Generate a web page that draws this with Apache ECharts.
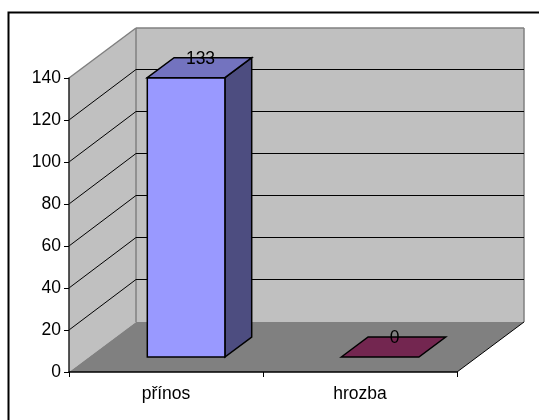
<!DOCTYPE html>
<html>
<head>
<meta charset="utf-8">
<style>html,body{margin:0;padding:0;background:#fff}#c{width:539px;height:420px}</style>
<script src="https://cdn.jsdelivr.net/npm/echarts@6/dist/echarts.min.js"></script>
</head>
<body>
<div id="c"></div>
<script>
const categories = ['přínos', 'hrozba'];
const values = [133, 0];
const yTicks = [0, 20, 40, 60, 80, 100, 120, 140];

const barColors = [
  { front: '#9999FF', top: '#7373BF', side: '#4D4D80' },
  { front: '#993366', top: '#732650', side: '#4D1A33' }
];
const wallColor = '#C0C0C0';
const floorColor = '#808080';
const edgeColor = '#808080';
const FONT_FAMILY = '"Liberation Sans", Arial, sans-serif';
const FONT_SIZE = 17.5;

// Oblique projection: how far the room recedes, and where a bar sits within that depth.
const DEPTH_X = 67, DEPTH_Y = -50;
const BAR_NEAR = 0.3, BAR_FAR = 0.7;
const BAR_WIDTH_RATIO = 0.4;

const at = (p, t) => [p[0] + DEPTH_X * t, p[1] + DEPTH_Y * t];
const poly = (points, style) => ({ type: 'polygon', shape: { points }, style });
const seg = (a, b, stroke, lineWidth) => ({
  type: 'line',
  shape: { x1: a[0], y1: a[1], x2: b[0], y2: b[1] },
  style: { stroke, lineWidth }
});

// Side wall, back wall and floor of the box behind the bars.
function renderRoom(params, api) {
  const band = api.size([1, 0])[0];
  const last = categories.length - 1;
  const top = yTicks[yTicks.length - 1];
  const x0 = api.coord([0, 0])[0] - band / 2;
  const x1 = api.coord([last, 0])[0] + band / 2;
  const y0 = api.coord([0, 0])[1];
  const yT = api.coord([0, top])[1];
  const fl = [x0, y0], fr = [x1, y0], tl = [x0, yT], tr = [x1, yT];
  return {
    type: 'group',
    children: [
      poly([tl, at(tl, 1), at(fl, 1), fl], { fill: wallColor }),
      poly([at(tl, 1), at(tr, 1), at(fr, 1), at(fl, 1)], { fill: wallColor }),
      poly([fl, at(fl, 1), at(fr, 1), fr], { fill: floorColor }),
      seg(tl, at(tl, 1), edgeColor, 1.5),
      seg(at(tl, 1), at(tr, 1), edgeColor, 1.5),
      seg(at(tr, 1), at(fr, 1), edgeColor, 1.5),
      seg(at(tl, 1), at(fl, 1), edgeColor, 1.5),
      seg(fr, at(fr, 1), '#000', 1)
    ]
  };
}

// One gridline per tick, running along the side wall and across the back wall.
function renderGridline(params, api) {
  const band = api.size([1, 0])[0];
  const v = api.value(1);
  const y = api.coord([0, v])[1];
  const x0 = api.coord([0, 0])[0] - band / 2;
  const x1 = api.coord([categories.length - 1, 0])[0] + band / 2;
  if (v === yTicks[0] || v === yTicks[yTicks.length - 1]) return { type: 'group', children: [] };
  const backY = Math.round(y + DEPTH_Y) - 0.5;
  return {
    type: 'group',
    children: [
      seg([x0, y], [x0 + DEPTH_X, backY], '#000', 1),
      seg([x0 + DEPTH_X, backY], [x1 + DEPTH_X, backY], '#000', 1)
    ]
  };
}

// A bar is a box: front, top and side faces, with the value over its top face.
function renderBar(params, api) {
  const i = api.value(0);
  const v = api.value(1);
  const band = api.size([1, 0])[0];
  const c = barColors[i];
  const base = api.coord([i, 0]);
  const head = api.coord([i, v]);
  const w = band * BAR_WIDTH_RATIO;
  const bl = [base[0] - w / 2, base[1]], br = [base[0] + w / 2, base[1]];
  const tl = [head[0] - w / 2, head[1]], tr = [head[0] + w / 2, head[1]];
  const outlined = fill => ({ fill, stroke: '#000', lineWidth: 1.5 });
  const fTl = at(tl, BAR_NEAR), fTr = at(tr, BAR_NEAR), fBl = at(bl, BAR_NEAR), fBr = at(br, BAR_NEAR);
  const bTl = at(tl, BAR_FAR), bTr = at(tr, BAR_FAR), bBr = at(br, BAR_FAR);
  const children = [];
  if (v > 0) {
    children.push(poly([fTr, bTr, bBr, fBr], outlined(c.side)));
    children.push(poly([fTl, fTr, fBr, fBl], outlined(c.front)));
  }
  children.push(poly([fTl, bTl, bTr, fTr], outlined(c.top)));
  const mid = at(head, (BAR_NEAR + BAR_FAR) / 2);
  children.push({
    type: 'text',
    style: {
      text: String(v),
      x: mid[0] + 1,
      y: at(head, BAR_FAR)[1] + 1.5,
      align: 'center',
      verticalAlign: 'middle',
      fontFamily: FONT_FAMILY,
      fontSize: FONT_SIZE,
      fill: '#000'
    }
  });
  return { type: 'group', children };
}

const chart = echarts.init(document.getElementById('c'), null, { renderer: 'canvas' });
chart.setOption({
  animation: false,
  backgroundColor: '#fff',
  textStyle: { fontFamily: FONT_FAMILY },
  graphic: [{
    type: 'polyline',
    silent: true,
    shape: { points: [[8.5, 420], [8.5, 12.5], [539, 12.5]] },
    style: { stroke: '#000', lineWidth: 2, fill: 'none' }
  }],
  grid: { left: 69, right: 82, top: 78, bottom: 48, containLabel: false },
  xAxis: {
    type: 'category',
    data: categories,
    z: 5,
    axisLine: { lineStyle: { color: '#000', width: 1.5 } },
    axisTick: { show: true, alignWithLabel: false, length: 5, lineStyle: { color: '#000' } },
    axisLabel: { color: '#000', fontSize: FONT_SIZE, margin: 13, fontFamily: FONT_FAMILY, interval: 0 }
  },
  yAxis: {
    type: 'value',
    min: 0,
    max: 140,
    interval: 20,
    z: 5,
    axisLine: { show: true, lineStyle: { color: '#222', width: 1.5 } },
    axisTick: { show: true, length: 5, lineStyle: { color: '#000' } },
    axisLabel: { color: '#000', fontSize: FONT_SIZE, margin: 8, padding: [2, 0, 0, 0], fontFamily: FONT_FAMILY },
    splitLine: { show: false }
  },
  series: [
    { type: 'custom', z: 1, silent: true, clip: false, renderItem: renderRoom, data: [[0, 0]] },
    { type: 'custom', z: 2, silent: true, clip: false, renderItem: renderGridline, data: yTicks.map(t => [0, t]) },
    { type: 'custom', z: 3, silent: true, clip: false, renderItem: renderBar, data: values.map((v, i) => [i, v]) }
  ]
});
</script>
</body>
</html>
